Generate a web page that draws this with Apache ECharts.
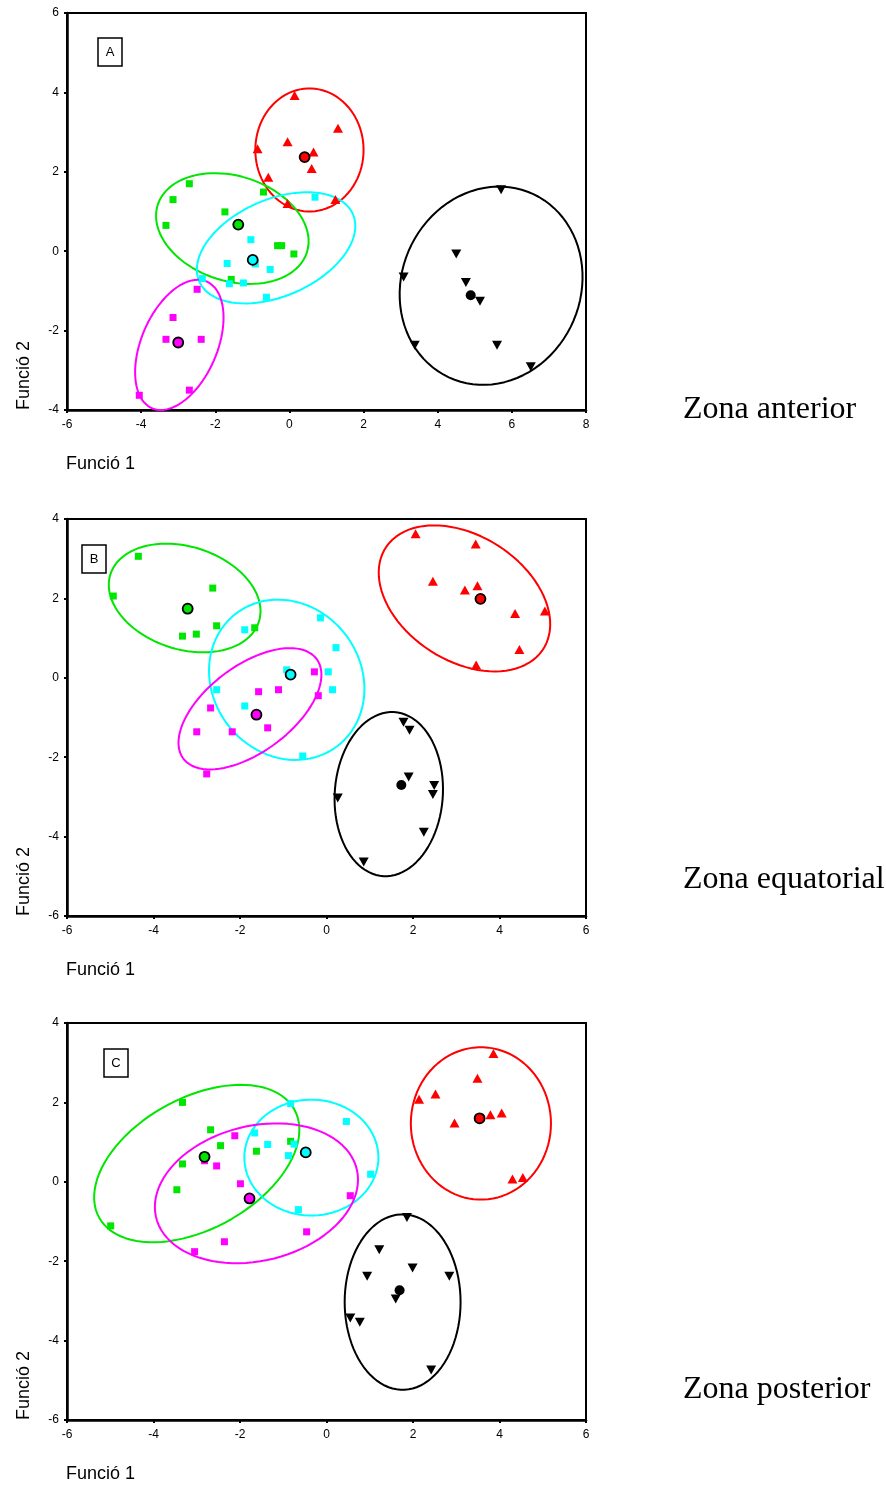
<!DOCTYPE html>
<html>
<head>
<meta charset="utf-8">
<script src="https://cdn.jsdelivr.net/npm/echarts@6/dist/echarts.min.js"></script>
<style>
html,body{margin:0;padding:0;background:#fff;}
#chart{width:886px;height:1490px;}
</style>
</head>
<body>
<div id="chart"></div>
<script>
// ---------- DATA ----------
const groupNames = ['red', 'green', 'cyan', 'magenta', 'black'];
const groupColors = ['#ff0000', '#00e600', '#00ffff', '#ff00ff', '#000000'];
const panelLabels = ['A', 'B', 'C'];
const zoneLabels = ['Zona anterior', 'Zona equatorial', 'Zona posterior'];
const xTitle = 'Funció 1';
const yTitle = 'Funció 2';

// Panel A (Zona anterior)
const A_red = [[0.14,3.92],[1.31,3.10],[-0.05,2.76],[-0.86,2.58],[0.65,2.50],[0.60,2.08],[-0.57,1.86],[-0.05,1.20],[1.24,1.30]];
const A_green = [[-2.70,1.70],[-3.14,1.30],[-3.33,0.65],[-0.70,1.49],[-1.74,0.99],[-0.32,0.14],[-0.21,0.14],[0.12,-0.07],[-1.57,-0.71]];
const A_cyan = [[0.69,1.36],[-1.04,0.29],[-1.68,-0.31],[-0.92,-0.32],[-0.52,-0.46],[-2.35,-0.69],[-1.62,-0.82],[-1.24,-0.80],[-0.62,-1.16]];
const A_magenta = [[-2.49,-0.96],[-3.14,-1.67],[-3.33,-2.22],[-2.38,-2.22],[-2.70,-3.50],[-4.05,-3.63]];
const A_black = [[5.71,1.55],[4.50,-0.07],[3.08,-0.65],[4.76,-0.79],[5.14,-1.26],[3.38,-2.37],[5.60,-2.37],[6.51,-2.91]];
const A_centroids = [[0.41,2.37],[-1.38,0.67],[-0.99,-0.22],[-3.0,-2.30],[4.89,-1.11]];
// ellipse: [centerX, centerY, semiAxisA, semiAxisB, rotationDeg]
const A_ellipses = [[0.54,2.55,1.46,1.55,0],[-1.54,0.57,2.1,1.33,-15],[-0.36,0.085,2.24,1.23,21],[-2.97,-2.36,1.76,1.01,63.9],[5.44,-0.87,2.59,2.37,49]];

// Panel B (Zona equatorial)
const B_red = [[2.06,3.63],[3.45,3.37],[2.46,2.43],[3.20,2.21],[3.49,2.32],[4.36,1.62],[5.05,1.68],[4.46,0.71],[3.46,0.32]];
const B_green = [[-4.35,3.06],[-4.93,2.06],[-2.63,2.26],[-2.54,1.31],[-1.66,1.26],[-3.01,1.10],[-3.33,1.05]];
const B_cyan = [[-1.89,1.21],[-0.14,1.51],[0.22,0.76],[-0.92,0.20],[0.04,0.15],[0.14,-0.30],[-2.54,-0.30],[-1.89,-0.71],[-0.55,-1.97]];
const B_magenta = [[-0.28,0.15],[-0.19,-0.45],[-1.11,-0.30],[-1.57,-0.35],[-2.68,-0.76],[-1.36,-1.26],[-3.0,-1.36],[-2.18,-1.36],[-2.77,-2.42]];
const B_black = [[1.78,-1.12],[1.92,-1.32],[1.90,-2.50],[2.49,-2.71],[2.46,-2.94],[0.26,-3.03],[2.25,-3.89],[0.86,-4.64]];
const B_centroids = [[3.56,1.99],[-3.21,1.74],[-0.83,0.08],[-1.62,-0.93],[1.73,-2.70]];
const B_ellipses = [[3.19,2.0,2.23,1.53,-39],[-3.28,2.01,1.82,1.28,-22],[-0.92,-0.05,2.06,1.75,-68],[-1.77,-0.78,1.99,1.05,41],[1.44,-2.93,2.07,1.25,86.7]];

// Panel C (Zona posterior)
const C_red = [[3.86,3.23],[3.49,2.61],[2.14,2.08],[2.52,2.21],[2.96,1.48],[3.79,1.69],[4.05,1.73],[4.30,0.07],[4.54,0.11]];
const C_green = [[-3.33,2.0],[-2.68,1.31],[-2.45,0.91],[-3.33,0.45],[-1.62,0.77],[-0.83,1.02],[-3.46,-0.20],[-4.99,-1.11]];
const C_cyan = [[-0.83,1.97],[0.46,1.52],[-1.66,1.23],[-1.36,0.94],[-0.75,0.95],[-0.88,0.66],[1.02,0.19],[-0.65,-0.70]];
const C_magenta = [[-2.12,1.16],[-2.82,0.53],[-2.54,0.40],[-1.99,-0.05],[0.55,-0.35],[-0.46,-1.26],[-2.36,-1.51],[-3.05,-1.76]];
const C_black = [[1.86,-0.90],[1.22,-1.71],[1.99,-2.17],[0.94,-2.38],[2.84,-2.38],[1.60,-2.95],[0.55,-3.43],[0.77,-3.54],[2.42,-4.74]];
const C_centroids = [[3.54,1.60],[-2.82,0.63],[-0.48,0.74],[-1.78,-0.42],[1.69,-2.73]];
const C_ellipses = [[3.57,1.47,1.62,1.92,0],[-3.0,0.46,2.64,1.61,33.6],[-0.35,0.61,1.55,1.46,0],[-1.62,-0.29,2.40,1.69,16.9],[1.76,-3.03,1.34,2.21,0]];

// Axis ranges / ticks
const xRanges = [[-6,8],[-6,6],[-6,6]];
const yRanges = [[-4,6],[-6,4],[-6,4]];
const tickStep = 2;

// ---------- BUILD ----------
const panels = [
  {pts:[A_red,A_green,A_cyan,A_magenta,A_black], cents:A_centroids, ells:A_ellipses},
  {pts:[B_red,B_green,B_cyan,B_magenta,B_black], cents:B_centroids, ells:B_ellipses},
  {pts:[C_red,C_green,C_cyan,C_magenta,C_black], cents:C_centroids, ells:C_ellipses}
];
const gridBoxes = [
  {left:67, top:13, width:519, height:397},
  {left:67, top:519, width:519, height:397},
  {left:67, top:1023, width:519, height:397}
];
const zoneTop = [394, 864, 1374];

function ellipsePath(p) {
  const [cx, cy, a, b, deg] = p;
  const t = deg * Math.PI / 180;
  const out = [];
  const n = 90;
  for (let i = 0; i <= n; i++) {
    const s = i / n * 2 * Math.PI;
    out.push([
      cx + a * Math.cos(t) * Math.cos(s) - b * Math.sin(t) * Math.sin(s),
      cy + a * Math.sin(t) * Math.cos(s) + b * Math.cos(t) * Math.sin(s)
    ]);
  }
  return out;
}

const font = 'Liberation Sans, Arial, sans-serif';
const grids = [], xAxes = [], yAxes = [], series = [], graphics = [];

gridBoxes.forEach((g, i) => {
  grids.push(Object.assign({show:true, borderColor:'#000', borderWidth:2, backgroundColor:'#fff', outerBoundsMode:'none', containLabel:false}, g));
  const axisCommon = {
    gridIndex:i, type:'value', interval:tickStep, splitLine:{show:false},
    axisLine:{show:true, onZero:false, lineStyle:{color:'#000', width:2.5}},
    axisTick:{show:true, inside:false, length:3, lineStyle:{color:'#000', width:2}},
    axisLabel:{color:'#000', fontSize:12, fontFamily:font, margin:8}
  };
  xAxes.push(Object.assign({}, axisCommon, {min:xRanges[i][0], max:xRanges[i][1], axisLabel:Object.assign({}, axisCommon.axisLabel, {margin:9})}));
  yAxes.push(Object.assign({}, axisCommon, {min:yRanges[i][0], max:yRanges[i][1]}));

  const P = panels[i];
  groupNames.forEach((name, k) => {
    const col = groupColors[k];
    series.push({
      type:'line', xAxisIndex:i, yAxisIndex:i, data:ellipsePath(P.ells[k]),
      showSymbol:false, symbol:'none', smooth:false, silent:true, z:2,
      lineStyle:{color:col, width:2, opacity:1}
    });
    const isTri = (name === 'red' || name === 'black');
    series.push({
      type:'scatter', xAxisIndex:i, yAxisIndex:i, data:P.pts[k], z:3,
      symbol: isTri ? 'triangle' : 'rect',
      symbolSize: isTri ? [10, 9] : 7,
      symbolRotate: name === 'black' ? 180 : 0,
      itemStyle:{color:col, opacity:1}
    });
  });
  groupNames.forEach((name, k) => {
    series.push({
      type:'scatter', xAxisIndex:i, yAxisIndex:i, data:[P.cents[k]], z:4,
      symbol:'circle', symbolSize:10,
      itemStyle:{color:groupColors[k], borderColor:'#000', borderWidth:name==='black'?0:1.8, opacity:1}
    });
  });

  // axis titles
  graphics.push({type:'text', left:66, top:g.top + g.height + 45,
    style:{text:xTitle, font:'18px ' + font, fill:'#000'}});
  graphics.push({type:'text', x:15, y:g.top + g.height, rotation:Math.PI/2,
    style:{text:yTitle, font:'18px ' + font, fill:'#000', align:'left', verticalAlign:'top'}});
  // zone labels
  graphics.push({type:'text', x:683, y:zoneTop[i],
    style:{text:zoneLabels[i], font:'32px Liberation Serif, Times New Roman, serif', fill:'#000', verticalAlign:'top'}});
});

// panel letter boxes
const boxPos = [[98,38],[82,545],[104,1049]];
boxPos.forEach((p, i) => {
  graphics.push({type:'rect', shape:{x:p[0], y:p[1], width:24, height:28}, z:100,
    style:{fill:'#fff', stroke:'#000', lineWidth:1.5}});
  graphics.push({type:'text', x:p[0]+12, y:p[1]+14, z:101,
    style:{text:panelLabels[i], font:'13px ' + font, fill:'#000', align:'center', verticalAlign:'middle'}});
});

const chart = echarts.init(document.getElementById('chart'), null, {renderer:'canvas'});
chart.setOption({
  animation:false,
  backgroundColor:'#fff',
  grid:grids, xAxis:xAxes, yAxis:yAxes, series:series, graphic:graphics
});
</script>
</body>
</html>
